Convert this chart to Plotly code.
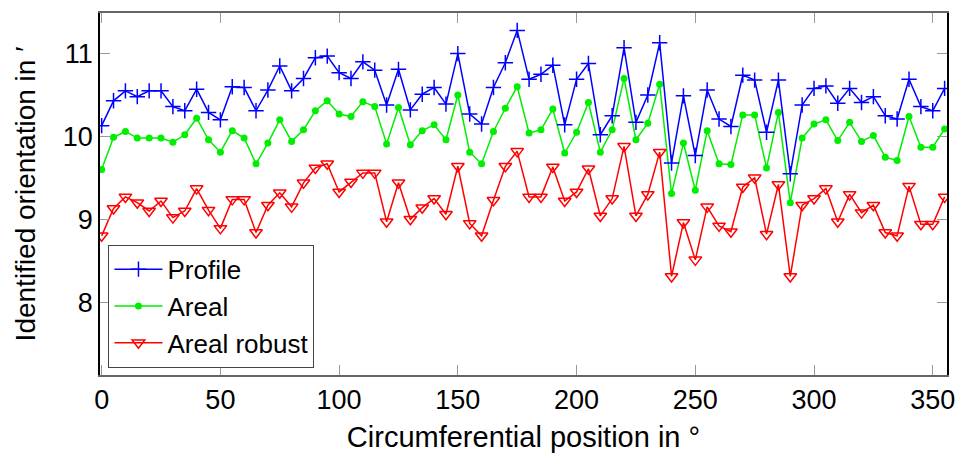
import plotly.graph_objects as go

positions = list(range(0, 360, 5))

profile = [10.13, 10.43, 10.55, 10.48, 10.55, 10.55, 10.36, 10.31, 10.57, 10.29,
           10.20, 10.60, 10.59, 10.31, 10.56, 10.85, 10.55, 10.70, 10.95, 10.97,
           10.77, 10.70, 10.90, 10.80, 10.38, 10.81, 10.32, 10.51, 10.59, 10.39,
           11.00, 10.27, 10.15, 10.59, 10.89, 11.28, 10.69, 10.75, 10.86, 10.14,
           10.69, 10.88, 10.02, 10.25, 11.07, 10.17, 10.50, 11.13, 9.68, 10.49,
           9.77, 10.56, 10.21, 10.12, 10.74, 10.68, 10.05, 10.68, 9.55, 10.38,
           10.58, 10.61, 10.40, 10.58, 10.41, 10.48, 10.25, 10.21, 10.69, 10.36,
           10.31, 10.58]

areal = [9.60, 9.99, 10.06, 9.98, 9.98, 9.98, 9.93, 10.02, 10.22, 9.96,
         9.81, 10.07, 9.98, 9.67, 9.92, 10.20, 9.94, 10.08, 10.31, 10.43,
         10.27, 10.24, 10.42, 10.36, 9.91, 10.35, 9.90, 10.07, 10.14, 9.96,
         10.50, 9.81, 9.67, 10.06, 10.34, 10.60, 10.04, 10.08, 10.33, 9.80,
         10.05, 10.41, 9.81, 10.08, 10.70, 9.96, 10.16, 10.63, 9.31, 9.92,
         9.35, 10.07, 9.67, 9.66, 10.26, 10.26, 9.62, 10.29, 9.20, 9.98,
         10.15, 10.20, 9.95, 10.17, 9.94, 10.01, 9.75, 9.71, 10.24, 9.87,
         9.87, 10.09]

areal_robust = [8.80, 9.13, 9.27, 9.20, 9.10, 9.22, 9.02, 9.10, 9.37, 9.11,
                8.89, 9.24, 9.24, 8.84, 9.17, 9.32, 9.15, 9.44, 9.62, 9.67,
                9.33, 9.45, 9.56, 9.56, 8.97, 9.44, 9.00, 9.14, 9.25, 9.06,
                9.64, 8.95, 8.80, 9.23, 9.64, 9.82, 9.27, 9.27, 9.63, 9.22,
                9.33, 9.61, 9.04, 9.25, 9.88, 9.04, 9.30, 9.81, 8.31, 8.96,
                8.51, 9.15, 8.92, 8.85, 9.39, 9.50, 8.82, 9.42, 8.31, 9.17,
                9.25, 9.37, 8.97, 9.30, 9.08, 9.17, 8.84, 8.80, 9.40, 8.94,
                8.94, 9.27]

x_ticks = [0, 50, 100, 150, 200, 250, 300, 350]
y_ticks = [8, 9, 10, 11]

FONT = "Liberation Sans, Arial, sans-serif"
TICK_FS = 27
XTITLE_FS = 29
YTITLE_FS = 28
LEG_FS = 26

fig = go.Figure()
fig.add_trace(go.Scatter(
    x=positions, y=areal_robust, name="Areal robust", mode="lines+markers",
    line=dict(color="#ff0000", width=1.5),
    marker=dict(symbol="triangle-down-open", size=11, color="#ff0000",
                line=dict(color="#ff0000", width=1.5)),
))
fig.add_trace(go.Scatter(
    x=positions, y=areal, name="Areal", mode="lines+markers",
    line=dict(color="#00ee00", width=1.5),
    marker=dict(symbol="circle", size=7, color="#00ee00"),
))
fig.add_trace(go.Scatter(
    x=positions, y=profile, name="Profile", mode="lines+markers",
    line=dict(color="#0000ff", width=1.5),
    marker=dict(symbol="cross-thin-open", size=11, line=dict(color="#0000ff", width=1.5)),
))

fig.update_layout(
    width=957, height=455,
    margin=dict(l=100, r=10, t=13, b=80),
    paper_bgcolor="white", plot_bgcolor="white",
    font=dict(family=FONT, size=TICK_FS, color="black"),
    showlegend=True,
    legend=dict(
        x=0.01, y=0.02, xanchor="left", yanchor="bottom",
        traceorder="reversed",
        bgcolor="white", bordercolor="#444", borderwidth=1,
        font=dict(family=FONT, size=LEG_FS, color="black"),
        tracegroupgap=0, itemwidth=48,
    ),
    xaxis=dict(
        range=[-0.7, 356], tickvals=x_ticks, ticktext=[str(v) for v in x_ticks],
        showgrid=False, zeroline=False,
        showline=True, linecolor="#666", linewidth=1.5, mirror="ticks",
        ticks="inside", ticklen=10, tickcolor="#999", tickwidth=1,
        tickfont=dict(size=TICK_FS),
        title=dict(text="Circumferential position in °", font=dict(size=XTITLE_FS), standoff=13),
        automargin=False,
    ),
    yaxis=dict(
        range=[7.12, 11.49], tickvals=y_ticks, ticktext=[str(v) for v in y_ticks],
        showgrid=False, zeroline=False,
        showline=True, linecolor="black", linewidth=1.5, mirror="ticks",
        ticks="inside", ticklen=10, tickcolor="#999", tickwidth=1,
        tickfont=dict(size=TICK_FS),
        title=dict(text="Identified orientation in ′", font=dict(size=YTITLE_FS), standoff=19),
        automargin=False,
    ),
)

fig.write_html("out.html")
